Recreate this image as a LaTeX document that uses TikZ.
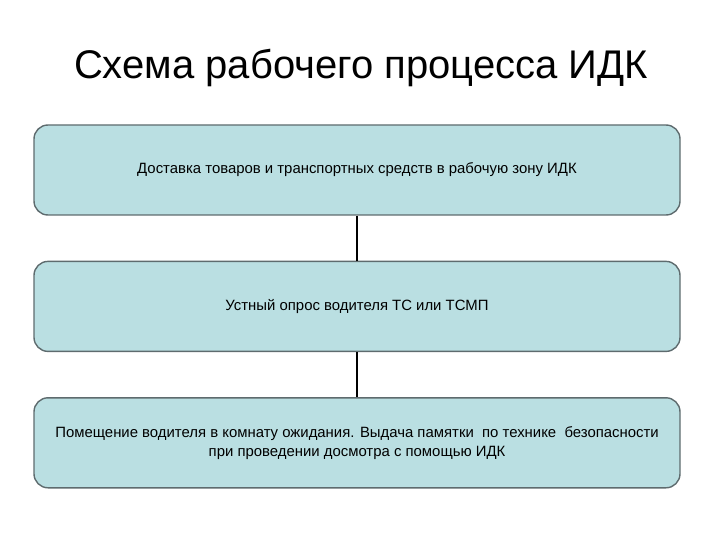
\documentclass[tikz,border=0pt]{standalone}
\usepackage{fontspec}
\setmainfont{Liberation Sans}
\usetikzlibrary{positioning}

\definecolor{boxfill}{HTML}{BADFE2}
\definecolor{boxline}{HTML}{5E6B6E}

\begin{document}
\begin{tikzpicture}[x=1pt, y=1pt,
  stage/.style = {shape=rectangle, rounded corners=14pt,
    draw=boxline, line width=1.4pt, fill=boxfill, align=center,
    minimum width=646pt, minimum height=90pt, font=\fontsize{14.9}{19}\selectfont},
  link/.style = {draw=black, line width=2pt}]
  \useasboundingbox (0,0) rectangle (720,-540);
  \node (title) at (361,-68) {\fontsize{40}{44}\selectfont Схема рабочего процесса ИДК};
  \node [stage] (delivery) at (357,-170) {Доставка товаров и транспортных средств в рабочую зону ИДК};
  \node [stage, below=45pt of delivery] (survey) {Устный опрос водителя ТС или ТСМП};
  \node [stage, below=45pt of survey] (waiting) {Помещение водителя в комнату ожидания. Выдача памятки~ по технике~ безопасности\\при проведении досмотра с помощью ИДК};
  \draw [link] (delivery) -- (survey);
  \draw [link] (survey) -- (waiting);
\end{tikzpicture}
\end{document}
